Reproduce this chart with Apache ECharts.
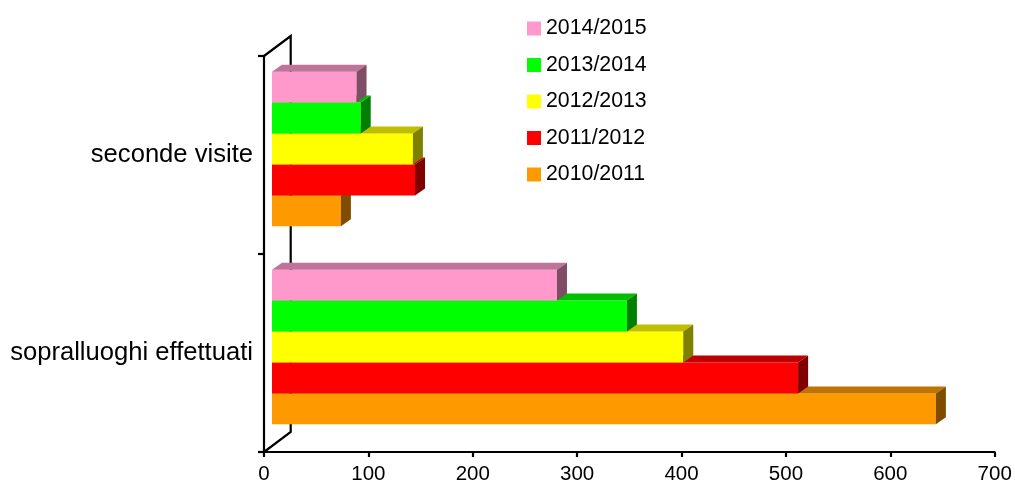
<!DOCTYPE html>
<html>
<head>
<meta charset="utf-8">
<script src="https://cdn.jsdelivr.net/npm/echarts@6/dist/echarts.min.js"></script>
<style>
html,body{margin:0;padding:0;background:#fff;}
#chart{width:1015px;height:485px;}
</style>
</head>
<body>
<div id="chart"></div>
<script>
// ---- data ----
var categories = ['sopralluoghi effettuati', 'seconde visite'];
var seriesNames = ['2010/2011', '2011/2012', '2012/2013', '2013/2014', '2014/2015'];
var values2010 = [636, 66];
var values2011 = [504, 137];
var values2012 = [394, 135];
var values2013 = [340, 85];
var values2014 = [273, 81];
var xTicks = [0, 100, 200, 300, 400, 500, 600, 700];

var allValues = [values2010, values2011, values2012, values2013, values2014];
var frontColors = ['#FF9900', '#FF0000', '#FFFF00', '#00FF00', '#FF99CC'];
var topColors   = ['#BF7300', '#BF0000', '#BFBF00', '#00BF00', '#BF7399'];
var sideColors  = ['#804D00', '#800000', '#808000', '#008000', '#804D66'];

var FONT = "'Liberation Sans', Arial, sans-serif";

function makeRender(i) {
  return function (params, api) {
    var v = api.value(0);
    var c = api.value(1);
    var p0 = api.coord([0, c]);
    var p1 = api.coord([v, c]);
    var band = api.size([0, 1])[1];
    var bh = band * 0.1563;
    var dx = 8, dy = -6;     // depth position of bars
    var ox = 10, oy = -7;    // bar depth
    var cy = p0[1] + dy;
    var yB = cy + 2.5 * bh - i * bh;
    var yT = yB - bh;
    var x1 = p0[0] + dx, x2 = p1[0] + dx;
    return {
      type: 'group',
      children: [
        { type: 'rect', shape: { x: x1, y: yT, width: x2 - x1, height: yB - yT },
          style: { fill: frontColors[i] } },
        { type: 'polygon', shape: { points: [[x1, yT], [x1 + ox, yT + oy], [x2 + ox, yT + oy], [x2, yT]] },
          style: { fill: topColors[i] } },
        { type: 'polygon', shape: { points: [[x2, yT], [x2 + ox, yT + oy], [x2 + ox, yB + oy], [x2, yB]] },
          style: { fill: sideColors[i] } }
      ]
    };
  };
}

function renderWall(params, api) {
  var band = api.size([0, 1])[1];
  var pTop = api.coord([0, categories.length - 1]);
  var pBot = api.coord([0, 0]);
  var x0 = pTop[0];
  var yTop = pTop[1] - band / 2;
  var yBot = pBot[1] + band / 2;
  var wx = 26.7, wy = -20;
  return {
    type: 'polyline',
    shape: { points: [[x0, yTop], [x0 + wx, yTop + wy], [x0 + wx, yBot + wy], [x0, yBot]] },
    style: { stroke: '#000', lineWidth: 2.2, fill: null }
  };
}

var series = [{
  type: 'custom',
  name: 'wall',
  silent: true,
  z: 1,
  renderItem: renderWall,
  data: [[0, 0]],
  encode: { x: 0, y: 1 }
}];
for (var i = 0; i < seriesNames.length; i++) {
  series.push({
    type: 'custom',
    name: seriesNames[i],
    z: 2,
    itemStyle: { color: frontColors[i] },
    renderItem: makeRender(i),
    encode: { x: 0, y: 1 },
    data: allValues[i].map(function (v, k) { return [v, k]; })
  });
}

var chart = echarts.init(document.getElementById('chart'), null, { renderer: 'canvas' });
chart.setOption({
  animation: false,
  backgroundColor: '#fff',
  grid: { left: 264, top: 56, width: 730.7, height: 396.7, containLabel: false },
  legend: {
    data: seriesNames.slice().reverse().map(function (n) { return { name: n, icon: 'rect' }; }),
    orient: 'vertical',
    left: 527,
    top: 18,
    padding: 0,
    itemWidth: 14,
    itemHeight: 14,
    itemGap: 15.5,
    selectedMode: false,
    textStyle: { fontFamily: FONT, fontSize: 21.3, color: '#000', lineHeight: 20 }
  },
  xAxis: {
    type: 'value',
    min: xTicks[0],
    max: xTicks[xTicks.length - 1],
    interval: xTicks[1] - xTicks[0],
    axisLine: { show: true, lineStyle: { color: '#000', width: 2.2 } },
    axisTick: { show: true, inside: false, length: 5, lineStyle: { color: '#000', width: 2.2 } },
    axisLabel: { fontFamily: FONT, fontSize: 20.5, color: '#000', margin: 12 },
    splitLine: { show: false }
  },
  yAxis: {
    type: 'category',
    data: categories,
    axisLine: { show: true, lineStyle: { color: '#000', width: 2.2 } },
    axisTick: { show: true, inside: false, length: 6, lineStyle: { color: '#000', width: 2.2 } },
    axisLabel: { fontFamily: FONT, fontSize: 25.6, color: '#000', margin: 11 },
    splitLine: { show: false }
  },
  series: series
});
</script>
</body>
</html>
